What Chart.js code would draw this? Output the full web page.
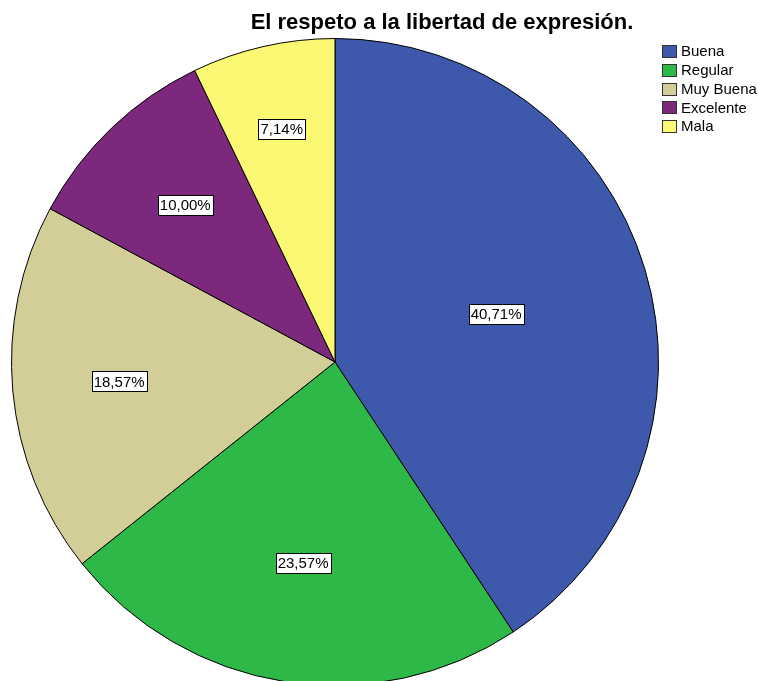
<!DOCTYPE html>
<html>
<head>
<meta charset="utf-8">
<script src="https://cdn.jsdelivr.net/npm/chart.js@4"></script>
<style>
  body { margin: 0; overflow: hidden; background: #fff; }
  #wrap { width: 758px; height: 700px; }
</style>
</head>
<body>
<div id="wrap"><canvas id="myChart" width="758" height="700"></canvas></div>
<script>
const titulo = 'El respeto a la libertad de expresión.'
const categorias = ['Buena', 'Regular', 'Muy Buena', 'Excelente', 'Mala']
const porcentajes = [40.71, 23.57, 18.57, 10.00, 7.14]
const colores = ['#3e58ac', '#2eb848', '#d3ce97', '#7c287d', '#fbf873']
// distancia de cada etiqueta al centro (fraccion del radio)
const distEtiqueta = [0.52, 0.63, 0.67, 0.67, 0.74]

const fuente = "'Liberation Sans', Arial, sans-serif"

const extras = {
  id: 'extras',
  afterDraw(chart) {
    const c = chart.ctx
    c.save()

    // titulo
    c.fillStyle = '#000'
    c.font = 'bold 22px ' + fuente
    c.textAlign = 'center'
    c.textBaseline = 'middle'
    c.fillText(titulo, 442, 23)

    // etiquetas
    const meta = chart.getDatasetMeta(0)
    c.font = '15px ' + fuente
    meta.data.forEach((arc, i) => {
      const ang = (arc.startAngle + arc.endAngle) / 2
      const r = arc.outerRadius * distEtiqueta[i]
      const x = arc.x + Math.cos(ang) * r
      const y = arc.y + Math.sin(ang) * r
      const txt = porcentajes[i].toFixed(2).replace('.', ',') + '%'
      const w = Math.round(c.measureText(txt).width + 4)
      const h = 20
      const bx = Math.round(x - w / 2) + 0.5
      const by = Math.round(y - h / 2) + 0.5
      c.fillStyle = '#fff'
      c.fillRect(bx, by, w, h)
      c.strokeStyle = '#000'
      c.lineWidth = 1
      c.strokeRect(bx, by, w, h)
      c.fillStyle = '#000'
      c.textAlign = 'center'
      c.fillText(txt, x, y + 1)
    })

    // leyenda
    c.textAlign = 'left'
    categorias.forEach((cat, i) => {
      const y = 51 + i * 18.8
      c.fillStyle = colores[i]
      c.fillRect(662.5, Math.round(y - 6) + 0.5, 14, 12)
      c.strokeStyle = '#333'
      c.strokeRect(662.5, Math.round(y - 6) + 0.5, 14, 12)
      c.fillStyle = '#000'
      c.fillText(cat, 681, y + 1)
    })

    c.restore()
  }
}

const ctx = document.getElementById('myChart')
new Chart(ctx, {
  type: 'pie',
  data: {
    labels: categorias,
    datasets: [{
      data: porcentajes,
      backgroundColor: colores,
      borderColor: '#000',
      borderWidth: 1,
    }],
  },
  options: {
    responsive: false,
    animation: false,
    events: [],
    layout: { padding: { left: 11, top: 38, right: 99, bottom: 14 } },
    plugins: {
      legend: { display: false },
      tooltip: { enabled: false },
      title: { display: false },
    },
  },
  plugins: [extras],
})
</script>
</body>
</html>
